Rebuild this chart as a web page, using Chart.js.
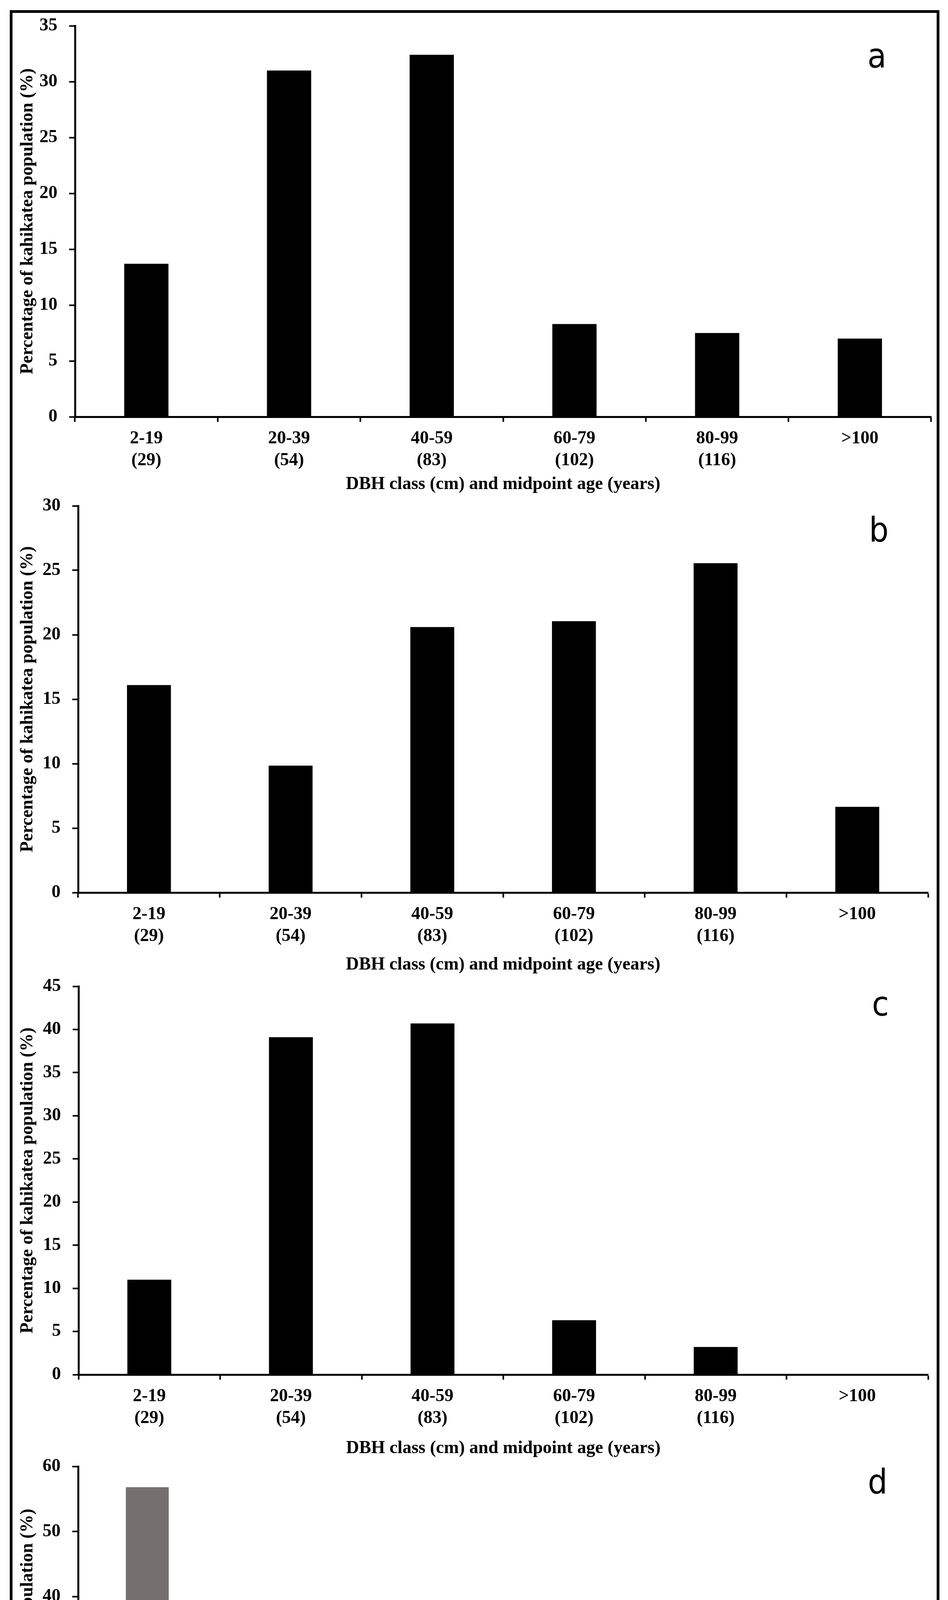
<!DOCTYPE html>
<html>
<head>
<meta charset="utf-8">
<script src="https://cdn.jsdelivr.net/npm/chart.js@4.4.1/dist/chart.umd.min.js"></script>
<style>
  html, body { margin: 0; padding: 0; background: #fff; }
  #page { position: relative; width: 2427px; height: 5002px; background: #fff; }
  #frame { position: absolute; left: 25px; top: 26px; width: 2380px; height: 4946px; border: 7px solid #000; box-sizing: border-box; }
  canvas { position: absolute; left: 0; }
</style>
</head>
<body>
<div id="page">
  <div id="frame"></div>
  <canvas id="chartA"></canvas>
  <canvas id="chartB"></canvas>
  <canvas id="chartC"></canvas>
  <canvas id="chartD"></canvas>
</div>
<script>
// DBH classes and midpoint ages
const dbhClasses = ["2-19", "20-39", "40-59", "60-79", "80-99", ">100"];
const agesABC = ["(29)", "(54)", "(83)", "(102)", "(116)", ""];
const agesD = ["(29)", "(37)", "(46)", "(54)", "(63)", ""];

// percentage of kahikatea population
const valuesA = [13.7, 31.0, 32.4, 8.3, 7.5, 7.0];
const valuesB = [16.1, 9.85, 20.6, 21.05, 25.55, 6.65];
const valuesC = [11.0, 39.1, 40.7, 6.3, 3.2, 0];
const saplingsD = [56.8, 0, 0, 0, 0, 0];
const treesD = [0, 38.4, 4.7, 0, 0, 0];

const yTitle = "Percentage of kahikatea population (%)";
const xTitle = "DBH class (cm) and midpoint age (years)";

Chart.defaults.font.family = '"Liberation Serif", "Times New Roman", serif';
Chart.defaults.color = "#000";

// panel letter (a, b, c, d)
const panelLetter = {
    id: "panelLetter",
    afterDraw(chart, args, opts) {
        const ctx = chart.ctx;
        ctx.save();
        ctx.font = '88px "Liberation Sans Narrow", "DejaVu Sans Condensed", sans-serif';
        ctx.fillStyle = "#000";
        ctx.textAlign = "center";
        ctx.textBaseline = "alphabetic";
        ctx.fillText(opts.text, opts.x, opts.y);
        ctx.restore();
    }
};

// legend drawn inside the plot on the right (panel d only)
const sideLegend = {
    id: "sideLegend",
    afterDraw(chart, args, opts) {
        if (!opts.display) return;
        const ctx = chart.ctx;
        ctx.save();
        chart.data.datasets.forEach(function (ds, i) {
            const y = opts.y + i * opts.gap;
            ctx.fillStyle = ds.backgroundColor;
            ctx.fillRect(opts.x, y - 13, 27, 27);
            ctx.fillStyle = "#000";
            ctx.font = '44px "Liberation Serif", serif';
            ctx.textAlign = "left";
            ctx.textBaseline = "middle";
            ctx.fillText(ds.label, opts.x + 47, y);
        });
        ctx.restore();
    }
};

function makePanel(cfg) {
    const canvas = document.getElementById(cfg.id);
    const h = cfg.bottom - cfg.top;
    canvas.width = 2427;
    canvas.height = h;
    canvas.style.width = "2427px";
    canvas.style.height = h + "px";
    canvas.style.top = cfg.top + "px";

    const labels = dbhClasses.map((c, i) => [c, cfg.ages[i]]);

    return new Chart(canvas.getContext("2d"), {
        type: "bar",
        data: { labels: labels, datasets: cfg.datasets },
        plugins: [panelLetter, sideLegend],
        options: {
            responsive: false,
            animation: false,
            devicePixelRatio: 1,
            layout: {
                padding: { top: cfg.plot.top - cfg.top, left: 0, right: 2427 - cfg.plot.right, bottom: 0 }
            },
            datasets: {
                bar: { categoryPercentage: 1.0, barPercentage: 0.31, borderWidth: 0 }
            },
            scales: {
                x: {
                    stacked: cfg.stacked,
                    afterFit: function (scale) { scale.height = cfg.bottom - cfg.plot.bottom; },
                    border: { display: true, color: "#000", width: 5 },
                    grid: { display: true, drawOnChartArea: false, drawTicks: true, tickLength: 13, tickWidth: 4, tickColor: "#000", offset: true },
                    ticks: { font: { size: 46, weight: "bold" }, padding: 16, maxRotation: 0, autoSkip: false, color: "#000" },
                    title: { display: true, text: xTitle, font: { size: 46, weight: "bold" }, padding: { top: 0, bottom: 4 }, color: "#000" }
                },
                y: {
                    stacked: cfg.stacked,
                    min: 0,
                    max: cfg.yMax,
                    afterFit: function (scale) { scale.width = cfg.plot.left; },
                    border: { display: true, color: "#000", width: 5 },
                    grid: { display: true, drawOnChartArea: false, drawTicks: true, tickLength: 15, tickWidth: 4, tickColor: "#000" },
                    ticks: { stepSize: cfg.yStep, font: { size: 46, weight: "bold" }, padding: 30, color: "#000" },
                    title: { display: true, text: yTitle, font: { size: 46, weight: "bold" }, padding: { top: 44, bottom: 0 }, color: "#000" }
                }
            },
            plugins: {
                legend: { display: false },
                tooltip: { enabled: false },
                panelLetter: { text: cfg.letter, x: cfg.letterX, y: cfg.letterY - cfg.top },
                sideLegend: cfg.legend ? { display: true, x: 2150, y: 4228 - cfg.top, gap: 102 } : { display: false }
            }
        }
    });
}

makePanel({
    id: "chartA", top: 6, bottom: 1272,
    plot: { left: 192, top: 66, right: 2384, bottom: 1067 },
    yMax: 35, yStep: 5, ages: agesABC, stacked: false,
    letter: "a", letterX: 2245, letterY: 173,
    datasets: [{ label: "Trees", data: valuesA, backgroundColor: "#000000" }]
});

makePanel({
    id: "chartB", top: 1235, bottom: 2502,
    plot: { left: 200, top: 1295, right: 2376, bottom: 2285 },
    yMax: 30, yStep: 5, ages: agesABC, stacked: false,
    letter: "b", letterX: 2250, letterY: 1386,
    datasets: [{ label: "Trees", data: valuesB, backgroundColor: "#000000" }]
});

makePanel({
    id: "chartC", top: 2465, bottom: 3740,
    plot: { left: 201, top: 2525, right: 2376, bottom: 3519 },
    yMax: 45, yStep: 5, ages: agesABC, stacked: false,
    letter: "c", letterX: 2254, letterY: 2600,
    datasets: [{ label: "Trees", data: valuesC, backgroundColor: "#000000" }]
});

makePanel({
    id: "chartD", top: 3694, bottom: 4968,
    plot: { left: 200, top: 3754, right: 2325, bottom: 4754 },
    yMax: 60, yStep: 10, ages: agesD, stacked: true,
    letter: "d", letterX: 2247, letterY: 3823, legend: true,
    datasets: [
        { label: "Saplings", data: saplingsD, backgroundColor: "#75706f" },
        { label: "Trees", data: treesD, backgroundColor: "#000000" }
    ]
});
</script>
</body>
</html>
